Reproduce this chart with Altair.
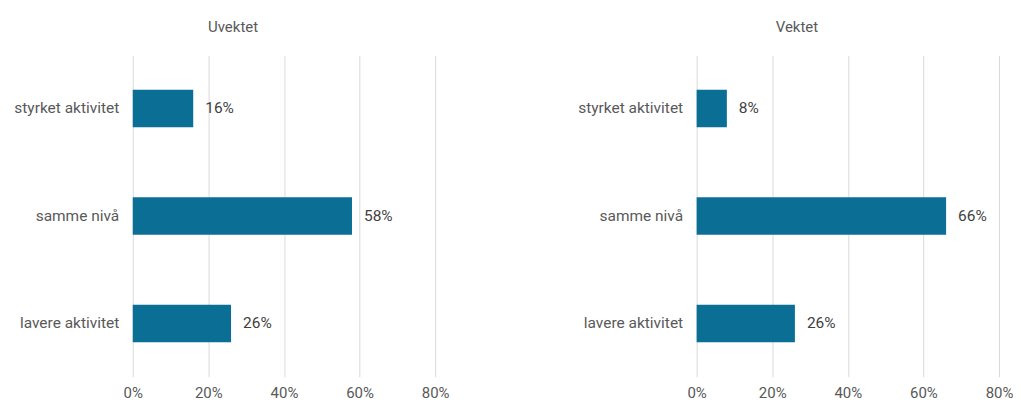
import altair as alt
import pandas as pd

categories = ["styrket aktivitet", "samme nivå", "lavere aktivitet"]
uvektet = [0.16, 0.58, 0.26]
vektet = [0.08, 0.66, 0.26]
panels = ["Uvektet", "Vektet"]
ticks = [0, 0.2, 0.4, 0.6, 0.8]

FONT = "Roboto"
BAR = "#0B6F95"
GREY = "#595959"


def panel(title, values):
    df = pd.DataFrame({"kategori": categories, "andel": values})
    base = alt.Chart(df).encode(
        y=alt.Y("kategori:N", sort=categories, title=None,
                scale=alt.Scale(paddingInner=0.65, paddingOuter=0.32),
                axis=alt.Axis(labelPadding=14, labelFontSize=15.5, labelColor=GREY,
                              labelFont=FONT, ticks=False, domain=False,
                              minExtent=125, maxExtent=125)),
        x=alt.X("andel:Q", title=None,
                scale=alt.Scale(domain=[0, 0.8], nice=False),
                axis=alt.Axis(values=ticks, format=".0%", labelPadding=9,
                              labelFontSize=15, labelColor=GREY, labelFont=FONT,
                              labelFlush=False,
                              ticks=False, domain=False, grid=True,
                              gridColor="#d9d9d9", gridWidth=1)),
    )
    bars = base.mark_bar(color=BAR)
    labels = base.mark_text(align="left", baseline="middle", dx=12, fontSize=15.5,
                            font=FONT, color="#404040").encode(
        text=alt.Text("andel:Q", format=".0%"))
    return (bars + labels).properties(
        width=303, height=322,
        title=alt.TitleParams(title, fontSize=15, font=FONT, color=GREY,
                              fontWeight="normal", anchor="middle", dx=-51,
                              offset=20))


chart = alt.hconcat(panel(panels[0], uvektet), panel(panels[1], vektet),
                    spacing=262, bounds="flush").configure_view(
    stroke=None).properties(padding={"top": 12, "left": 0, "right": 0, "bottom": 0})

chart.save("out.html", embed_options={"renderer": "svg", "actions": False})
